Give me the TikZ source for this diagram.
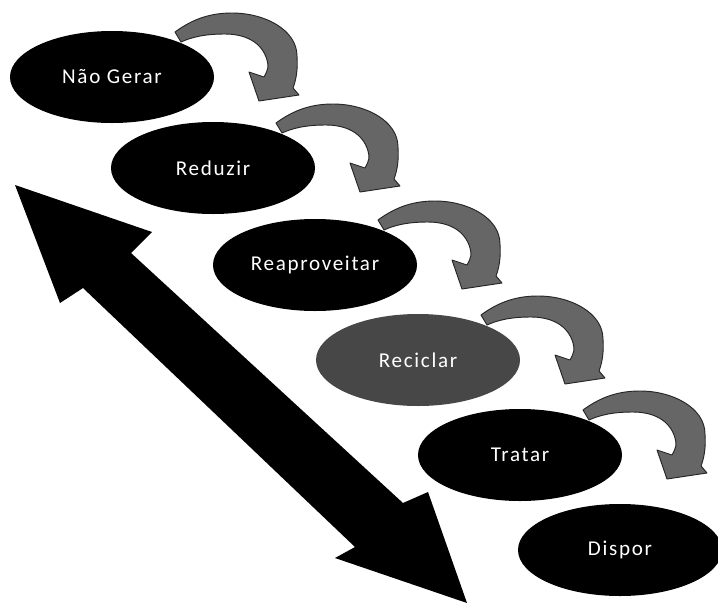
\documentclass[tikz,border=0pt]{standalone}
\usepackage{fontspec}
\setmainfont{Carlito}[LetterSpace=8]
\usetikzlibrary{shapes.geometric}
\tikzset{
  curvarrow/.pic={
    \filldraw[turn] (63,-45) .. controls (82,-59) and (100,-64) .. (120,-64)
      .. controls (153,-64) and (185,-47) .. (185,-21)
      .. controls (186,-7) and (184,3) .. (181,11)
      -- (187,18) -- (147,24) -- (137,-5) -- (152,0)
      .. controls (156,-7) and (157,-11) .. (155,-17)
      .. controls (150,-35) and (133,-43) .. (113,-43)
      .. controls (93,-43) and (80,-40) .. (69,-35) -- cycle;
  }
}
\begin{document}
\begin{tikzpicture}[x=0.03cm,y=-0.03cm,
  stage/.style={ellipse, fill=black, text=white, minimum width=6.12cm,
    minimum height=2.76cm, inner sep=0pt, font=\fontsize{18}{21}\selectfont},
  turn/.style={fill=black!60, draw=black!85, line width=0.8pt, line join=round},
  bigarrow/.style={fill=black}]
\useasboundingbox (0,0) rectangle (718,606);
% positions of the stages
\coordinate (c1) at (112,77);
\coordinate (c2) at (213,168);
\coordinate (c3) at (315,265);
\coordinate (c4) at (418,360);
\coordinate (c5) at (520,455);
\coordinate (c6) at (620,550);
% curved arrows
\foreach \k in {1,...,5} { \pic at (c\k) {curvarrow}; }
% double arrow
\coordinate (ta) at (15,185);
\coordinate (ba1) at (152,232);
\coordinate (ia1) at (131,253);
\coordinate (ib1) at (403,503);
\coordinate (bb1) at (428,492);
\coordinate (tb) at (467,603);
\coordinate (bb2) at (335,558);
\coordinate (ib2) at (355,547);
\coordinate (ia2) at (83,288);
\coordinate (ba2) at (60,303);
\fill[bigarrow] (ta) -- (ba1) -- (ia1) -- (ib1) -- (bb1) -- (tb) -- (bb2)
  -- (ib2) -- (ia2) -- (ba2) -- cycle;
% stages
\node[stage] (n1) at (c1) {Não Gerar};
\node[stage] (n2) at (c2) {Reduzir};
\node[stage] (n3) at (c3) {Reaproveitar};
\node[stage, fill=black!72] (n4) at (c4) {Reciclar};
\node[stage] (n5) at (c5) {Tratar};
\node[stage] (n6) at (c6) {Dispor};
\end{tikzpicture}
\end{document}
